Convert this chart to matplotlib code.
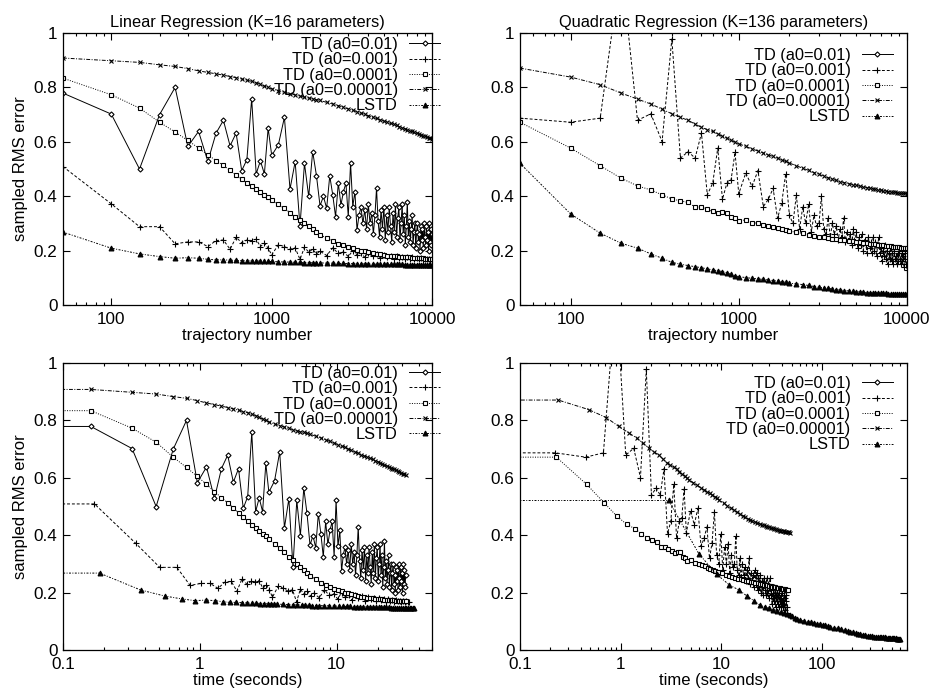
import numpy as np
import matplotlib
matplotlib.use('Agg')
import matplotlib.pyplot as plt
from matplotlib.ticker import LogLocator, NullFormatter

plt.rcParams['font.family'] = ['Liberation Sans', 'DejaVu Sans']

# trajectory numbers at which the curves were sampled
traj = np.concatenate([np.arange(50, 1001, 50), np.arange(1100, 2001, 100),
                       np.arange(2200, 4001, 200), np.arange(4250, 10001, 250)])
traj_fine = np.concatenate([np.arange(50, 1001, 50), np.arange(1100, 10001, 100)])

labels = ["TD (a0=0.01)", "TD (a0=0.001)", "TD (a0=0.0001)", "TD (a0=0.00001)", "LSTD"]

# ---- linear regression (K=16) ----
lin_td2 = [.779, .702, .500, .700, .800, .583, .638, .528, .632, .679, .585, .632, .494, .534, .758, .482, .530, .482, .650, .550,
           .589, .690, .426, .527, .290, .521, .399, .564, .476, .365,
           .399, .356, .475, .405, .325, .448, .368, .417, .448, .325,
           .523, .362, .417, .276, .330, .360, .300, .350, .280, .370,
           .300, .340, .260, .330, .430, .310, .250, .350, .280, .360,
           .240, .330, .270, .360, .290, .230, .340, .270, .370, .250,
           .320, .360, .240, .300, .370, .260, .330, .220, .290, .380,
           .250, .310, .230, .280, .330, .220, .270, .300, .210, .270,
           .300, .230, .260, .200, .290, .240, .280, .210, .300, .250,
           .220, .290, .240, .270, .200, .300, .230, .280, .220, .260]
lin_td3 = [.509, .372, .288, .288, .225, .232, .232, .215, .237, .239, .205, .249, .229, .239, .237, .242, .215, .227, .209, .184,
           .222, .215, .205, .210, .168, .212, .195, .205, .188, .198,
           .182, .210, .190, .196, .178, .200, .185, .192, .175, .190,
           .180, .188, .172, .185, .176, .182, .170, .180, .174, .178, .169, .176, .171, .175, .168, .173, .170, .172, .167, .171, .168, .170, .166, .168]
lin_td4 = [.834, .773, .724, .672, .636, .605, .577, .552, .531, .513, .495, .478, .463, .449, .437, .425, .415, .405, .396, .387,
           .370, .355, .340, .325, .312, .300, .289, .278, .268, .259,
           .246, .235, .226, .219, .213, .208, .204, .200, .197, .194,
           .191, .188, .186, .184, .182, .181, .180, .179, .178, .177, .176, .175, .175, .174, .174, .173, .173, .172, .172, .171, .171, .171, .170, .170]
lin_td5 = [.908, .898, .892, .883, .877, .869, .861, .855, .850, .845, .840, .836, .831, .827, .822, .817, .811, .805, .800, .795,
           .788, .782, .777, .772, .768, .764, .761, .758, .755, .752,
           .745, .739, .733, .727, .721, .716, .711, .706, .701, .696,
           .691, .686, .681, .676, .672, .668, .664, .660, .656, .652, .648, .645, .641, .638, .635, .632, .629, .626, .623, .620, .618, .615, .613, .610]
lin_lstd = [.268, .209, .188, .178, .172, .174, .172, .168, .166, .166, .165, .164, .163, .163, .162, .162, .161, .161, .160, .160,
            .159, .158, .158, .157, .157, .156, .156, .155, .155, .155,
            .154, .154, .153, .153, .152, .152, .152, .151, .151, .151,
            .150, .150, .150, .150, .149, .149, .149, .149, .149, .149, .148, .148, .148, .148, .148, .148, .148, .147, .147, .147, .147, .147, .147, .147]

# ---- quadratic regression (K=136) ----
quad_td2 = []   # diverged, never inside the plotted range
quad_td3 = [.687, .672, .687, 1.25, .679, .703, .601, .978, .540, .564, .540, .632, .405, .448, .577, .389, .448, .460, .561, .409,
            .485, .436, .494, .362, .389, .429, .319, .374, .482, .330,
            .300, .405, .280, .360, .300, .370, .270, .330, .290, .300,
            .399, .280, .260, .320, .250, .300, .260, .290, .240, .280,
            .250, .320, .230, .270, .240, .260, .220, .280, .230, .270,
            .210, .250, .220, .260, .200, .240, .220, .190, .250, .210,
            .230, .190, .250, .200, .230, .180, .220, .250, .190, .210,
            .160, .200, .180, .220, .170, .200, .150, .190, .170, .210,
            .160, .190, .150, .200, .170, .180, .150, .190, .160, .200,
            .170, .150, .190, .160, .180, .140, .190, .170, .150, .130]
quad_td4 = [.672, .577, .512, .466, .438, .423, .405, .390, .383, .377, .360, .360, .352, .344, .337, .341, .340, .325, .319, .309,
            .313, .303, .300, .296, .291, .287, .283, .280, .276, .272,
            .267, .263, .259, .255, .251, .249, .246, .244, .242, .240,
            .238, .236, .234, .233, .231, .229, .228, .226, .225, .223, .222, .221, .220, .218, .217, .216, .215, .214, .213, .212, .211, .210, .209, .208]
quad_td5 = [.871, .838, .810, .779, .757, .739, .720, .703, .690, .679, .665, .653, .645, .638, .629, .620, .613, .606, .599, .593,
            .583, .574, .566, .559, .552, .546, .540, .534, .528, .522,
            .512, .503, .495, .487, .480, .474, .468, .463, .458, .454,
            .450, .446, .443, .440, .437, .435, .432, .430, .428, .426, .424, .422, .420, .419, .417, .416, .415, .414, .413, .412, .411, .410, .410, .409]
quad_lstd = [.521, .335, .264, .227, .209, .188, .172, .157, .150, .145, .141, .137, .133, .129, .126, .123, .118, .113, .108, .104,
             .101, .098, .096, .094, .092, .090, .088, .086, .083, .080,
             .078, .075, .072, .068, .065, .063, .061, .059, .057, .055,
             .053, .052, .050, .049, .048, .047, .046, .046, .045, .045, .044, .044, .043, .043, .042, .042, .042, .041, .041, .041, .040, .040, .040, .040]

# CPU seconds per trajectory
lin_sec = [0.0032, 0.0034, 0.0032, 0.0032, 0.0037]
quad_sec = [0.0045, 0.0045, 0.0046, 0.0048, 0.06]

styles = [dict(ls='-', marker='D', ms=2.6, mfc='white'),
          dict(ls=(0, (3, 2)), marker='+', ms=5),
          dict(ls=(0, (1, 1.5)), marker='s', ms=3.2, mfc='white'),
          dict(ls=(0, (4, 1.5, 1, 1.5)), marker='x', ms=3.5),
          dict(ls=(0, (2, 1.5, 1, 1.5)), marker='^', ms=3.5)]


def draw(ax, series, xs, sec=None):
	for i in range(5):
		y = np.array(series[i], dtype=float)
		x = np.array(xs[i][:len(y)], dtype=float)
		st = dict(styles[i])
		if sec is not None and len(y) > 0:
			# gnuplot drew a flat segment from t=0 to the first sample
			x = np.concatenate([[0.001], x * sec[i]])
			y = np.concatenate([[y[0]], y])
			st['markevery'] = slice(1, None)
		ax.plot(x, y, color='black', lw=0.7, mew=0.8, label=labels[i], **st)


def style(ax, xlim, ticks, ticklabels, xlabel, ylabel, leg_anchor):
	ax.set_xscale('log')
	ax.set_xlim(xlim)
	ax.set_ylim(0, 1)
	ax.set_xticks(ticks)
	ax.set_xticklabels(ticklabels)
	ax.xaxis.set_minor_locator(LogLocator(base=10, subs=np.arange(2, 10)))
	ax.xaxis.set_minor_formatter(NullFormatter())
	ax.set_yticks([0, 0.2, 0.4, 0.6, 0.8, 1])
	ax.set_yticklabels(["0", "0.2", "0.4", "0.6", "0.8", "1"])
	ax.tick_params(which='both', direction='in', top=True, right=True, labelsize=12.3, width=0.8)
	ax.tick_params(which='major', length=5, pad=4)
	ax.tick_params(axis='x', which='major', pad=5)
	ax.tick_params(which='minor', length=2.5)
	for s in ax.spines.values():
		s.set_linewidth(0.9)
	ax.set_xlabel(xlabel, fontsize=12, labelpad=0.5)
	if ylabel:
		ax.set_ylabel(ylabel, fontsize=12, labelpad=4)
	ax.legend(loc='upper right', bbox_to_anchor=leg_anchor, frameon=False, markerfirst=False,
	          fontsize=11.8, handlelength=1.9, handletextpad=0.7, labelspacing=0.02,
	          borderpad=0, borderaxespad=0)


fig = plt.figure(figsize=(9.3, 6.89), dpi=100)
ax1 = fig.add_axes([0.0677, 0.5573, 0.397, 0.3948])
ax2 = fig.add_axes([0.5591, 0.5573, 0.4161, 0.3948])
ax3 = fig.add_axes([0.0677, 0.0566, 0.397, 0.4165])
ax4 = fig.add_axes([0.5591, 0.0566, 0.4161, 0.4165])

lin = [lin_td2, lin_td3, lin_td4, lin_td5, lin_lstd]
lin_x = [traj_fine, traj, traj, traj, traj]
quad = [quad_td2, quad_td3, quad_td4, quad_td5, quad_lstd]
quad_x = [traj, traj_fine, traj, traj, traj]

draw(ax1, lin, lin_x)
draw(ax2, quad, quad_x)
draw(ax3, lin, lin_x, lin_sec)
draw(ax4, quad, quad_x, quad_sec)

style(ax1, (50, 10000), [100, 1000, 10000], ["100", "1000", "10000"],
      "trajectory number", "sampled RMS error", (1.022, 0.985))
style(ax2, (50, 10000), [100, 1000, 10000], ["100", "1000", "10000"],
      "trajectory number", None, (0.964, 0.945))
style(ax3, (0.1, 50), [0.1, 1, 10], ["0.1", "1", "10"],
      "time (seconds)", "sampled RMS error", (1.022, 0.99))
style(ax4, (0.1, 700), [0.1, 1, 10, 100], ["0.1", "1", "10", "100"],
      "time (seconds)", None, (0.964, 0.955))

ax1.set_title("Linear Regression (K=16 parameters)", fontsize=11.8, pad=4)
ax2.set_title("Quadratic Regression (K=136 parameters)", fontsize=11.8, pad=4)

fig.savefig('out.png', dpi=100)
